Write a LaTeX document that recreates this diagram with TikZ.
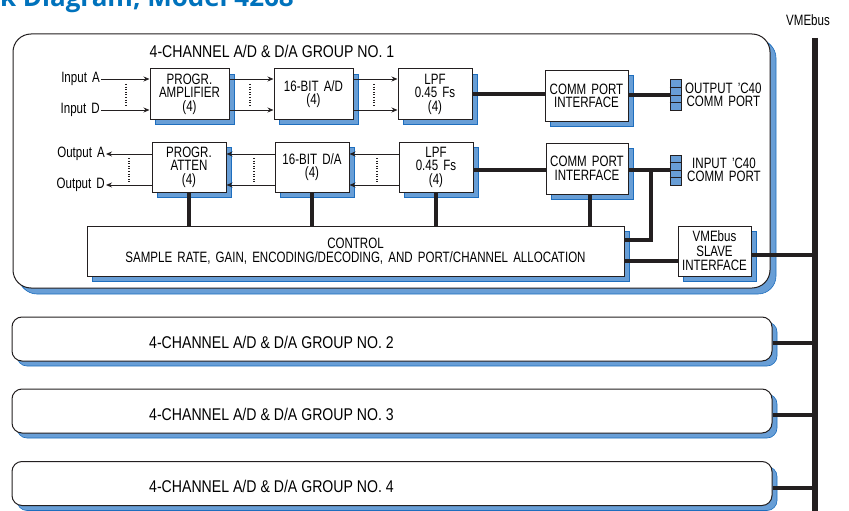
\documentclass[tikz,border=0pt]{standalone}
\usepackage{fontspec}
\newfontfamily\helv{Liberation Sans}[FakeStretch=0.77, WordSpace=1.6]
\newfontfamily\helvt{Liberation Sans}[FakeStretch=0.83]
\newfontfamily\titulo{Open Sans}
\usetikzlibrary{shadows, calc, arrows.meta}

\definecolor{sombra}{RGB}{104,158,214}
\definecolor{bordesombra}{RGB}{30,110,190}
\definecolor{tituloazul}{RGB}{0,114,188}
\definecolor{linea}{RGB}{35,31,32}

\tikzset{
  bloque/.style={rectangle, draw=linea, line width=1pt, fill=white, align=center, inner sep=1pt,
    font=\helv\fontsize{15}{13.5}\selectfont,
    drop shadow={shadow xshift=5pt, shadow yshift=-5pt, fill=sombra, draw=bordesombra, line width=0.6pt, opacity=1}},
  grupo/.style={rectangle, draw=linea, line width=1pt, fill=white, inner sep=0pt, rounded corners=10pt,
    drop shadow={shadow xshift=5pt, shadow yshift=-5pt, fill=sombra, draw=bordesombra, line width=0.6pt, opacity=1}},
  puerto/.style={rectangle, draw=linea, line width=1pt, fill=sombra, minimum width=11pt, minimum height=30pt, inner sep=0pt},
  etiqueta/.style={inner sep=1pt, align=center, font=\helv\fontsize{15}{13.5}\selectfont},
  titgrupo/.style={inner sep=1pt, font=\helvt\fontsize{17}{17}\selectfont},
  flecha/.style={-{Stealth[length=6pt, width=5pt]}, line width=0.9pt, draw=linea},
  grueso/.style={line width=3.5pt, draw=linea},
  puntos/.style={line width=1.2pt, dash pattern=on 1pt off 1.6pt, draw=linea}
}

\begin{document}
\begin{tikzpicture}[x=1pt, y=-1pt]
    \useasboundingbox (0,0) rectangle (849,511);
    \clip (0,0) rectangle (849,511);

    % --- Titulo (cortado arriba) ---
    \node[anchor=base east, inner sep=0pt, text=tituloazul, font=\titulo\bfseries\fontsize{26}{26}\selectfont] (titulo) at (294,7) {Block Diagram, Model 4268};

    % --- Bus VME ---
    \node[etiqueta] (vme) at (808,20) {VMEbus};
    \coordinate (bustop) at (815,38);
    \coordinate (busbot) at (815,511);
    \draw[line width=6pt, linea] (bustop) -- (busbot);

    % --- Grupo 1 ---
    \node[grupo, rounded corners=18pt, minimum width=757pt, minimum height=254pt,
      drop shadow={shadow xshift=6pt, shadow yshift=-6pt, fill=sombra, draw=bordesombra, line width=0.6pt, opacity=1}] (g1) at (391.5,161) {};
    \node[titgrupo] (t1) at (272,51) {4-CHANNEL A/D \& D/A GROUP NO. 1};

    % --- Fila de entrada ---
    \node[bloque, minimum width=79pt, minimum height=50pt] (amp) at (189.5,94) {PROGR.\\AMPLIFIER\\(4)};
    \node[bloque, minimum width=79pt, minimum height=50pt] (ad) at (313.5,94) {16-BIT A/D\\(4)};
    \node[bloque, minimum width=74pt, minimum height=50pt] (lpf1) at (435,94) {LPF\\0.45 Fs\\(4)};
    \node[bloque, minimum width=83pt, minimum height=51pt] (comm1) at (586.5,96) {COMM PORT\\INTERFACE};
    \node[puerto] (p1) at (675.5,95) {};
    \node[etiqueta, anchor=west] (lp1) at (684,95) {OUTPUT ’C40\\COMM PORT};

    \node[etiqueta, anchor=east] (inA) at (101,79) {Input A};
    \node[etiqueta, anchor=east] (inD) at (101,110) {Input D};

    % --- Fila de salida ---
    \node[bloque, minimum width=74pt, minimum height=50pt] (atten) at (189,167) {PROGR.\\ATTEN\\(4)};
    \node[bloque, minimum width=74pt, minimum height=50pt] (da) at (312,167) {16-BIT D/A\\(4)};
    \node[bloque, minimum width=74pt, minimum height=50pt] (lpf2) at (436,167) {LPF\\0.45 Fs\\(4)};
    \node[bloque, minimum width=82pt, minimum height=51pt] (comm2) at (587,168.5) {COMM PORT\\INTERFACE};
    \node[puerto] (p2) at (675.5,170) {};
    \node[etiqueta, anchor=west] (lp2) at (686,170) {INPUT ’C40\\COMM PORT};

    \node[etiqueta, anchor=east] (outA) at (106,154) {Output A};
    \node[etiqueta, anchor=east] (outD) at (106,185) {Output D};

    % --- Control y VME slave ---
    \node[bloque, minimum width=537pt, minimum height=50pt, font=\helv\fontsize{15}{14}\selectfont] (control) at (355.5,251) {CONTROL\\SAMPLE RATE, GAIN, ENCODING/DECODING, AND PORT/CHANNEL ALLOCATION};
    \node[bloque, minimum width=73pt, minimum height=50pt, font=\helv\fontsize{15}{14.5}\selectfont] (slave) at (714.5,251) {VMEbus\\SLAVE\\INTERFACE};

    % celdas de los puertos
    \foreach \p in {p1,p2} {
      \foreach \k in {1,2,3}
        \draw[linea, line width=0.8pt] ($(\p.north west)!\k/4!(\p.south west)$) -- ($(\p.north east)!\k/4!(\p.south east)$);
    }

    % ================= FLECHAS =================
    \draw[flecha] (inA) -- ([yshift=15pt]amp.west);
    \draw[flecha] (inD) -- ([yshift=-16pt]amp.west);
    \draw[flecha] ([yshift=15pt]amp.east) -- ([yshift=15pt]ad.west);
    \draw[flecha] ([yshift=-16pt]amp.east) -- ([yshift=-16pt]ad.west);
    \draw[flecha] ([yshift=15pt]ad.east) -- ([yshift=15pt]lpf1.west);
    \draw[flecha] ([yshift=-16pt]ad.east) -- ([yshift=-16pt]lpf1.west);

    \draw[flecha] ([yshift=13pt]atten.west) -- (outA);
    \draw[flecha] ([yshift=-18pt]atten.west) -- (outD);
    \draw[flecha] ([yshift=13pt]da.west) -- ([yshift=13pt]atten.east);
    \draw[flecha] ([yshift=-18pt]da.west) -- ([yshift=-18pt]atten.east);
    \draw[flecha] ([yshift=13pt]lpf2.west) -- ([yshift=13pt]da.east);
    \draw[flecha] ([yshift=-18pt]lpf2.west) -- ([yshift=-18pt]da.east);

    % lineas de puntos (canales B y C)
    \draw[puntos] (126,84) -- (126,105);
    \draw[puntos] (250,84) -- (250,105);
    \draw[puntos] (374,84) -- (374,105);
    \draw[puntos] (129,158) -- (129,182);
    \draw[puntos] (254,158) -- (254,182);
    \draw[puntos] (377,158) -- (377,182);

    % ================= LINEAS GRUESAS =================
    \draw[grueso] (lpf1.east) -- (lpf1.east -| comm1.west);
    \draw[grueso] (comm1.east |- p1) -- (p1.west);
    \draw[grueso] (lpf2.east |- p2) -- (comm2.west |- p2);
    \draw[grueso] (comm2.east |- p2) -- (p2.west);
    \coordinate (nudo) at (651,170);
    \draw[grueso] (nudo) |- ([yshift=11pt]control.east);

    \draw[grueso] (atten.south) -- (atten.south |- control.north);
    \draw[grueso] (da.south) -- (da.south |- control.north);
    \draw[grueso] (lpf2.south) -- (lpf2.south |- control.north);
    \draw[grueso] ([xshift=3pt]comm2.south) -- ([xshift=3pt]comm2.south |- control.north);

    \draw[grueso] ([yshift=-10pt]control.east) -- ([yshift=-10pt]slave.west);
    \draw[grueso] ([yshift=-4pt]slave.east) -- ([yshift=-4pt]slave.east -| bustop);

    % --- Grupos 2 a 4 ---
    \foreach \n/\y in {2/339, 3/411, 4/483.5} {
      \node[grupo, minimum width=760pt, minimum height=44pt] (g\n) at (392,\y) {};
      \node[titgrupo, anchor=west] (t\n) at (148,\y+3) {4-CHANNEL A/D \& D/A GROUP NO. \n};
      \draw[grueso, line width=4pt] ([yshift=-4pt]g\n.east) -- ([yshift=-4pt]g\n.east -| bustop);
    }
\end{tikzpicture}
\end{document}
